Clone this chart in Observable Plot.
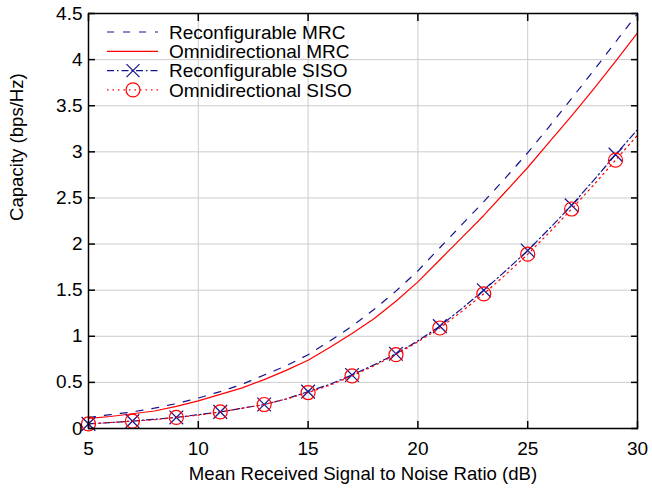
<!DOCTYPE html>
<html><head><meta charset="utf-8">
<script src="https://cdn.jsdelivr.net/npm/d3@7"></script>
<script src="https://cdn.jsdelivr.net/npm/@observablehq/plot@0.6"></script>
<style>
html,body{margin:0;padding:0;background:#fff;}
#chart{width:652px;height:493px;}
#chart svg{font-family:"Liberation Sans", Arial, Helvetica, sans-serif;}
</style></head><body><div id="chart"></div>
<script>
// ---- data ----
const snrDb = [5,6,7,8,9,10,11,12,13,14,15,16,17,18,19,20,21,22,23,24,25,26,27,28,29,30];
const reconfMRC = [0.12,0.15,0.18,0.22,0.27,0.33,0.40,0.48,0.58,0.68,0.80,0.95,1.11,1.29,1.49,1.71,1.96,2.21,2.46,2.72,2.99,3.28,3.58,3.88,4.19,4.50];
const omniMRC   = [0.11,0.13,0.16,0.19,0.24,0.30,0.37,0.44,0.53,0.63,0.74,0.88,1.03,1.19,1.38,1.59,1.83,2.07,2.31,2.57,2.83,3.11,3.39,3.68,3.98,4.29];
const reconfSISO= [0.05,0.065,0.08,0.10,0.12,0.15,0.18,0.22,0.26,0.32,0.40,0.48,0.58,0.69,0.81,0.95,1.11,1.30,1.50,1.71,1.93,2.17,2.42,2.69,2.97,3.24];
const omniSISO  = [0.05,0.065,0.08,0.095,0.12,0.145,0.18,0.22,0.26,0.32,0.39,0.47,0.57,0.68,0.80,0.94,1.09,1.27,1.46,1.67,1.89,2.13,2.38,2.64,2.91,3.18];
const xTicks = [5,10,15,20,25,30];
const yTicks = [0,0.5,1,1.5,2,2.5,3,3.5,4,4.5];
const seriesNames = ["Reconfigurable MRC","Omnidirectional MRC","Reconfigurable SISO","Omnidirectional SISO"];
const xLabel = "Mean Received Signal to Noise Ratio (dB)";
const yLabel = "Capacity (bps/Hz)";

// ---- styles ----
const navy = "#14148c", red = "#ff0000";
const FONT = '"Liberation Sans", Arial, Helvetica, sans-serif';
const dashMRC = "7,9", dashDot = "7,3,1.5,3", dotted = "1.5,4";
const fmt = d => String(d);

const rows = ys => snrDb.map((x, i) => ({x, y: ys[i]}));
const markerRows = ys => rows(ys).filter(d => d.x % 2 === 1);

const chart = Plot.plot({
  width: 652, height: 493,
  marginLeft: 88, marginRight: 15, marginTop: 13, marginBottom: 65,
  style: {fontFamily: FONT, fontSize: "18.6px", color: "#000", background: "#fff"},
  x: {domain: [5, 30]},
  y: {domain: [0, 4.5]},
  marks: [
    Plot.gridX(xTicks, {stroke: "#cccccc", strokeOpacity: 1, strokeWidth: 1}),
    Plot.gridY(yTicks, {stroke: "#cccccc", strokeOpacity: 1, strokeWidth: 1}),
    Plot.line(rows(reconfMRC), {x: "x", y: "y", stroke: navy, strokeWidth: 1.2, strokeDasharray: dashMRC}),
    Plot.line(rows(omniMRC), {x: "x", y: "y", stroke: red, strokeWidth: 1.2}),
    Plot.line(rows(reconfSISO), {x: "x", y: "y", stroke: navy, strokeWidth: 1.2, strokeDasharray: dashDot}),
    Plot.dot(markerRows(reconfSISO), {x: "x", y: "y", symbol: "times", r: 6.3, stroke: navy, strokeWidth: 1.2}),
    Plot.line(rows(omniSISO), {x: "x", y: "y", stroke: red, strokeWidth: 1.2, strokeDasharray: dotted}),
    Plot.dot(markerRows(omniSISO), {x: "x", y: "y", symbol: "circle", r: 7, stroke: red, fill: "none", strokeWidth: 1.2}),
    Plot.frame({stroke: "#000", strokeWidth: 1.5}),
    Plot.axisX(xTicks, {anchor: "bottom", tickSize: -7, tickPadding: 20, label: null, strokeWidth: 1.5, fontSize: 19, tickFormat: fmt}),
    Plot.axisX(xTicks, {anchor: "top", tickSize: -7, tickFormat: () => "", label: null, strokeWidth: 1.5}),
    Plot.axisY(yTicks, {anchor: "left", tickSize: -7, tickPadding: 13, label: null, strokeWidth: 1.5, fontSize: 19, tickFormat: fmt}),
    Plot.axisY(yTicks, {anchor: "right", tickSize: -7, tickFormat: () => "", label: null, strokeWidth: 1.5}),
    Plot.text([xLabel], {frameAnchor: "bottom", dy: 51, fontSize: 18.6, fill: "#000"}),
    Plot.text([yLabel], {frameAnchor: "left", dx: -71, rotate: -90, fontSize: 18.6, fill: "#000"})
  ]
});
document.getElementById("chart").appendChild(chart);

// ---- legend (inside plot, top-left) ----
const svg = d3.select(chart);
const lg = svg.append("g").attr("font-family", FONT).attr("font-size", 19).attr("text-anchor", "start");
const legendItems = [
  {name: seriesNames[0], stroke: navy, dash: dashMRC, marker: null},
  {name: seriesNames[1], stroke: red, dash: null, marker: null},
  {name: seriesNames[2], stroke: navy, dash: dashDot, marker: "times"},
  {name: seriesNames[3], stroke: red, dash: dotted, marker: "circle"}
];
legendItems.forEach((it, i) => {
  const cy = 32 + i * 19.3;
  const ln = lg.append("line").attr("x1", 107).attr("x2", 158).attr("y1", cy).attr("y2", cy)
    .attr("stroke", it.stroke).attr("stroke-width", 1.2);
  if (it.dash) ln.attr("stroke-dasharray", it.dash);
  if (it.marker === "times") {
    lg.append("path").attr("d", "M-6.5,-6.5L6.5,6.5M-6.5,6.5L6.5,-6.5")
      .attr("transform", `translate(133,${cy})`).attr("stroke", it.stroke).attr("stroke-width", 1.2).attr("fill", "none");
  } else if (it.marker === "circle") {
    lg.append("circle").attr("cx", 133).attr("cy", cy).attr("r", 7)
      .attr("stroke", it.stroke).attr("stroke-width", 1.2).attr("fill", "none");
  }
  lg.append("text").attr("x", 169).attr("y", cy + 6.7).attr("fill", "#000").text(it.name);
});
</script></body></html>
